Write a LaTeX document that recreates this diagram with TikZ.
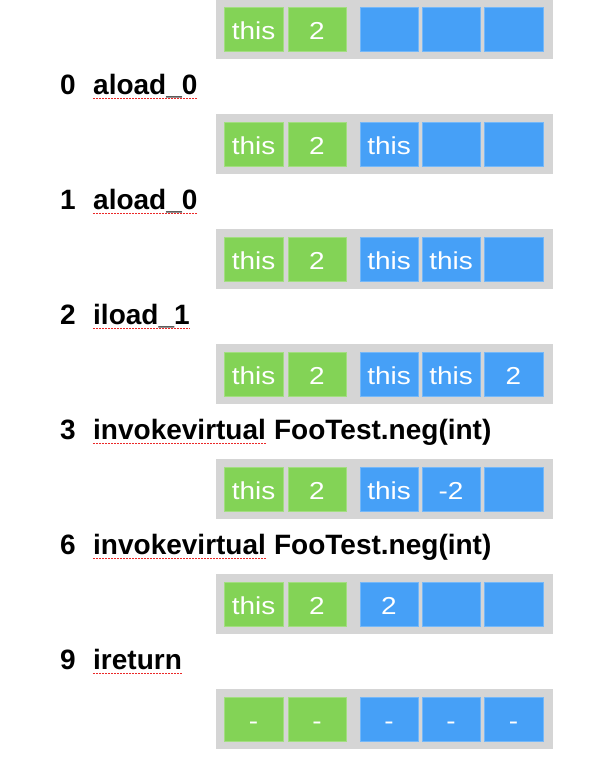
\documentclass[tikz,border=0pt]{standalone}
\usepackage{fontspec}
\setmainfont{Liberation Sans}
\newfontfamily\cellfont[FakeStretch=1.14]{Liberation Sans}
\definecolor{cgreen}{RGB}{131,211,86}
\definecolor{cblue}{RGB}{70,160,247}
\definecolor{cgray}{RGB}{213,213,213}
\definecolor{squig}{RGB}{235,40,40}
\tikzset{
  gcell/.style={fill=cgreen, draw=cgreen!75!white, line width=0.6pt},
  bcell/.style={fill=cblue, draw=cblue!75!white, line width=0.6pt},
  stripbg/.style={fill=cgray, draw=none},
  celltext/.style={text=white, font=\cellfont\fontsize{24.5}{28}\selectfont, inner sep=0pt, anchor=base},
  labtext/.style={font=\bfseries\fontsize{28}{32}\selectfont, inner sep=0pt, anchor=base west},
  squiggle/.style={draw=squig, dash pattern=on 2pt off 1pt, line width=1.2pt}
}
\newcommand\stackrow[6]{%
  \pgfmathsetmacro\T{7+115*#1}%
  \fill[stripbg] (216,\T-8) rectangle (553,\T+52);
  \draw[gcell] (224,\T) rectangle (283,\T+44);
  \draw[gcell] (288,\T) rectangle (346,\T+44);
  \draw[bcell] (360,\T) rectangle (418,\T+44);
  \draw[bcell] (422,\T) rectangle (480,\T+44);
  \draw[bcell] (484,\T) rectangle (543,\T+44);
  \node[celltext] (r#1a) at (253.5,\T+32) {#2};
  \node[celltext] (r#1b) at (317,\T+32) {#3};
  \node[celltext] (r#1c) at (389,\T+32) {#4};
  \node[celltext] (r#1d) at (451,\T+32) {#5};
  \node[celltext] (r#1e) at (513.5,\T+32) {#6};
}
\newcommand\oplabel[4]{%
  \pgfmathsetmacro\B{94+115*#1}%
  \node[labtext] (d#1) at (60,\B) {#2};
  \node[labtext] (w#1) at (93,\B) {#3};
  \draw[squiggle] ([yshift=-4.5pt]w#1.base west) -- ([yshift=-4.5pt]w#1.base east);
  \node[labtext] (x#1) at ([xshift=7.8pt]w#1.base east) {#4};
}
\begin{document}
\begin{tikzpicture}[x=1pt,y=-1pt]
  \useasboundingbox (0,0) rectangle (594,761);
  \stackrow{0}{this}{2}{}{}{}
  \oplabel{0}{0}{aload\_0}{}
  \stackrow{1}{this}{2}{this}{}{}
  \oplabel{1}{1}{aload\_0}{}
  \stackrow{2}{this}{2}{this}{this}{}
  \oplabel{2}{2}{iload\_1}{}
  \stackrow{3}{this}{2}{this}{this}{2}
  \oplabel{3}{3}{invokevirtual}{FooTest.neg(int)}
  \stackrow{4}{this}{2}{this}{-2}{}
  \oplabel{4}{6}{invokevirtual}{FooTest.neg(int)}
  \stackrow{5}{this}{2}{2}{}{}
  \oplabel{5}{9}{ireturn}{}
  \stackrow{6}{-}{-}{-}{-}{-}
\end{tikzpicture}
\end{document}
